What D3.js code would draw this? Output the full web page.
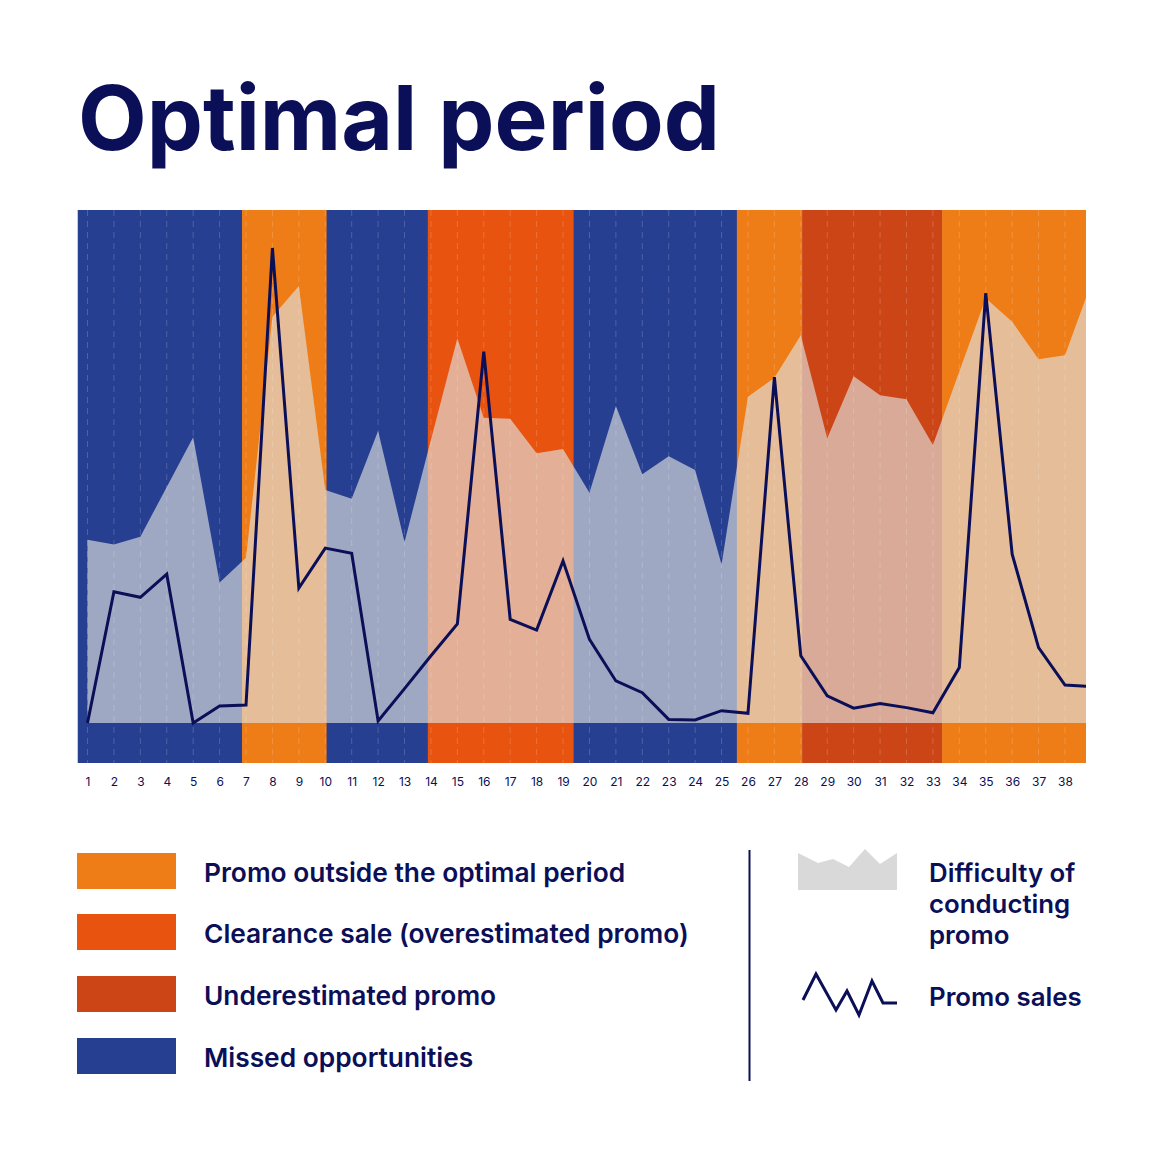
<!DOCTYPE html>
<html>
<head>
<meta charset="utf-8">
<script src="https://cdn.jsdelivr.net/npm/d3@7.9.0/dist/d3.min.js"></script>
<style>
  html, body { margin: 0; padding: 0; background: #fff; }
  svg { display: block; font-family: Inter, "Open Sans", sans-serif; }
</style>
</head>
<body>
<svg id="chart" width="1160" height="1160"></svg>
<script>
// ---- data ----
const days = d3.range(1, 40); // 39 points, last one runs off the right edge
const tickDays = d3.range(1, 39);

// difficulty of conducting promo (0-100)
const difficulty = [35.7, 34.8, 36.3, 46.0, 55.7, 27.4, 32.2, 79.2, 85.2, 45.4,
  43.7, 56.9, 35.3, 55.2, 75.0, 59.5, 59.3, 52.6, 53.4, 44.9,
  61.8, 48.5, 52.0, 49.3, 30.9, 63.6, 67.3, 75.6, 55.5, 67.6,
  63.9, 63.1, 54.2, 68.5, 82.8, 78.2, 70.9, 71.7, 85.8];

// promo sales (0-100)
const sales = [0, 25.6, 24.5, 29.0, 0, 3.3, 3.5, 92.6, 26.3, 34.1,
  33.1, 0.4, 6.7, 13.1, 19.3, 72.4, 20.2, 18.1, 31.6, 16.3,
  8.2, 5.9, 0.7, 0.6, 2.4, 1.9, 67.4, 13.1, 5.3, 2.9,
  3.8, 3.0, 2.0, 10.8, 83.8, 32.9, 14.7, 7.4, 7.1];

// period bands, in day units
const bandStart = [0.62, 6.85, 10.05, 13.88, 19.4, 25.58, 28.05, 33.35];
const bandEnd   = [6.85, 10.05, 13.88, 19.4, 25.58, 28.05, 33.35, 38.8];
const bandType  = ["missed", "outside", "missed", "clearance", "missed", "outside", "under", "outside"];

const legendKeys   = ["outside", "clearance", "under", "missed"];
const legendLabels = ["Promo outside the optimal period", "Clearance sale (overestimated promo)",
  "Underestimated promo", "Missed opportunities"];

const colors = {
  outside: "#ee7d17",
  clearance: "#e8530f",
  under: "#cc4516",
  missed: "#273f91"
};
const navy = "#0b0f57";

// ---- layout ----
const svg = d3.select("#chart");
const plotLeft = 77.5, plotRight = 1086, plotTop = 210, baseY = 723, plotBottom = 763;

const x = d3.scaleLinear().domain([1, 38]).range([87.5, 1065]);
const y = d3.scaleLinear().domain([0, 100]).range([baseY, plotTop]);

// title
const title = svg.append("text")
  .attr("x", 78).attr("y", 150)
  .attr("fill", navy)
  .attr("font-weight", 700)
  .attr("font-size", 90)
  .text("Optimal period");
const tw = title.node().getComputedTextLength();
title.attr("font-size", 90 * 642 / tw);

svg.append("clipPath").attr("id", "plot")
  .append("rect").attr("x", plotLeft).attr("y", plotTop)
  .attr("width", plotRight - plotLeft).attr("height", plotBottom - plotTop);

const plot = svg.append("g").attr("clip-path", "url(#plot)");

// colored bands
plot.selectAll("rect.band")
  .data(bandType)
  .join("rect")
  .attr("class", "band")
  .attr("x", (d, i) => x(bandStart[i]))
  .attr("width", (d, i) => x(bandEnd[i]) - x(bandStart[i]) + 0.5)
  .attr("y", plotTop)
  .attr("height", plotBottom - plotTop)
  .attr("fill", d => colors[d]);

// difficulty area (light overlay)
const area = d3.area()
  .x((d, i) => x(days[i]))
  .y0(y(0))
  .y1(d => y(d));

plot.append("path")
  .attr("d", area(difficulty))
  .attr("fill", "#e0e1de")
  .attr("fill-opacity", 0.65);

// dashed day gridlines
plot.selectAll("line.grid")
  .data(tickDays)
  .join("line")
  .attr("class", "grid")
  .attr("x1", d => x(d)).attr("x2", d => x(d))
  .attr("y1", plotTop).attr("y2", plotBottom)
  .attr("stroke", "#fff")
  .attr("stroke-opacity", 0.18)
  .attr("stroke-width", 1)
  .attr("stroke-dasharray", "6,5");

// promo sales line
const line = d3.line()
  .x((d, i) => x(days[i]))
  .y(d => y(d));

plot.append("path")
  .attr("d", line(sales))
  .attr("fill", "none")
  .attr("stroke", navy)
  .attr("stroke-width", 3)
  .attr("stroke-linejoin", "miter");

// x axis
const xAxis = d3.axisBottom(x)
  .tickValues(tickDays)
  .tickSize(0)
  .tickPadding(0)
  .tickFormat(d3.format("d"));

const gx = svg.append("g")
  .attr("transform", `translate(0,${plotBottom + 14})`)
  .call(xAxis);
gx.select(".domain").remove();
gx.selectAll("text")
  .attr("fill", navy)
  .attr("font-size", 12)
  .attr("font-family", "Inter, sans-serif");

// ---- legend (left) ----
const legY = [853, 914, 976, 1038];
const leg = svg.append("g");
leg.selectAll("rect")
  .data(legendKeys)
  .join("rect")
  .attr("x", 77).attr("y", (d, i) => legY[i])
  .attr("width", 99).attr("height", 36)
  .attr("fill", d => colors[d]);

const legText = leg.selectAll("text")
  .data(legendLabels)
  .join("text")
  .attr("x", 204)
  .attr("y", (d, i) => legY[i] + 29)
  .attr("fill", navy)
  .attr("font-weight", 600)
  .attr("font-size", 25)
  .text(d => d);
const lw = legText.nodes()[1].getComputedTextLength();
const legSize = 25 * 485 / lw;
legText.attr("font-size", legSize);

// divider
svg.append("line")
  .attr("x1", 749.5).attr("x2", 749.5)
  .attr("y1", 850).attr("y2", 1081)
  .attr("stroke", navy).attr("stroke-width", 2);

// ---- legend (right) ----
const iconDiff = [[798, 853], [818, 863], [833, 859], [849, 867], [865, 849], [880, 864], [897, 853], [897, 890], [798, 890]];
svg.append("polygon")
  .attr("points", iconDiff.map(p => p.join(",")).join(" "))
  .attr("fill", "#d9d9d9");

const iconSales = [[803, 1000], [816, 974], [836, 1010], [847, 991], [859, 1015], [872, 981], [883, 1003], [897, 1003]];
svg.append("path")
  .attr("d", d3.line()(iconSales))
  .attr("fill", "none")
  .attr("stroke", navy)
  .attr("stroke-width", 3);

const rightLines = ["Difficulty of", "conducting", "promo"];
svg.selectAll("text.rl")
  .data(rightLines)
  .join("text")
  .attr("class", "rl")
  .attr("x", 929)
  .attr("y", (d, i) => 882 + i * 31)
  .attr("fill", navy)
  .attr("font-weight", 600)
  .attr("font-size", legSize * 0.98)
  .text(d => d);

svg.append("text")
  .attr("x", 929).attr("y", 1006)
  .attr("fill", navy)
  .attr("font-weight", 600)
  .attr("font-size", legSize * 0.98)
  .text("Promo sales");
</script>
</body>
</html>
